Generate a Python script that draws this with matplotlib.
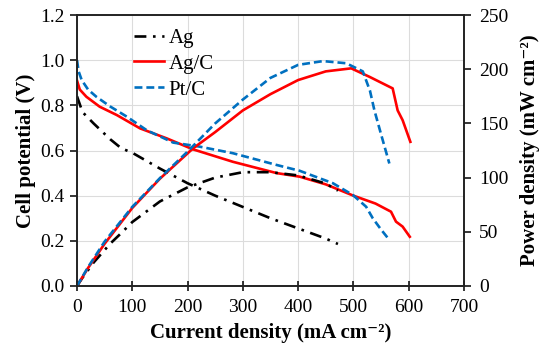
import matplotlib
matplotlib.use("Agg")
import matplotlib.pyplot as plt

# ---- data ----
ag_i = [0, 10, 30, 60, 80, 100, 150, 200, 250, 300, 350, 400, 450, 472]
ag_v = [0.84, 0.77, 0.72, 0.65, 0.61, 0.59, 0.52, 0.455, 0.40, 0.35, 0.30, 0.255, 0.21, 0.186]
ag_p = [0, 7.7, 21.6, 39, 48.8, 59, 78, 91, 100, 105, 105, 102, 94.5, 88]

agc_i_v = [0, 5, 17, 41, 72, 114, 162, 210, 282, 361, 403, 450, 500, 540, 568, 577, 589, 602]
agc_v = [0.91, 0.87, 0.838, 0.794, 0.757, 0.698, 0.654, 0.605, 0.55, 0.50, 0.484, 0.45, 0.40,
         0.365, 0.329, 0.285, 0.263, 0.218]
agc_i_p = [0, 20, 50, 100, 150, 210, 250, 300, 350, 400, 450, 496, 529, 571, 580, 589, 603]
agc_p = [0, 16.6, 39, 72, 99, 127, 142, 162, 177, 190, 198, 200.8, 193, 182.3, 162, 153, 133]

ptc_i_v = [0, 3, 8.5, 20, 35, 60, 90, 126, 174, 222, 282, 361, 403, 463, 499, 523, 535, 550, 565]
ptc_v = [1.0, 0.95, 0.912, 0.87, 0.838, 0.795, 0.75, 0.69, 0.635, 0.617, 0.588, 0.536, 0.51,
         0.455, 0.403, 0.351, 0.30, 0.25, 0.204]
ptc_i_p = [0, 20, 50, 100, 150, 200, 250, 300, 350, 400, 445, 487, 517, 530, 538, 550, 565]
ptc_p = [0, 17.4, 41, 73, 99.5, 124, 150, 172, 192, 204, 207.5, 205.5, 198, 180, 162, 140, 113]

x_ticks = [0, 100, 200, 300, 400, 500, 600, 700]
v_ticks = [0.0, 0.2, 0.4, 0.6, 0.8, 1.0, 1.2]
p_ticks = [0, 50, 100, 150, 200, 250]

# ---- style ----
plt.rcParams['font.family'] = ['Liberation Serif', 'DejaVu Serif']

FS = 14
LFS = 15
black = '#000000'
red = '#FF0000'
blue = '#0070C0'
lw = 1.9

fig = plt.figure(figsize=(5.5, 3.55), dpi=100)
ax = fig.add_axes([0.14, 0.1944, 0.7036, 0.7633])
ax2 = ax.twinx()

dashdot = (0, (4.5, 2.5, 1, 2.5))
dashed = (0, (3, 1.5))

ax.plot(ag_i, ag_v, color=black, lw=lw, linestyle=dashdot, label='Ag')
ax.plot(agc_i_v, agc_v, color=red, lw=lw, linestyle='-', label='Ag/C')
ax.plot(ptc_i_v, ptc_v, color=blue, lw=lw, linestyle=dashed, label='Pt/C')

ax2.plot(ag_i, ag_p, color=black, lw=lw, linestyle=dashdot)
ax2.plot(agc_i_p, agc_p, color=red, lw=lw, linestyle='-')
ax2.plot(ptc_i_p, ptc_p, color=blue, lw=lw, linestyle=dashed)

ax.set_xlim(0, 700)
ax.set_ylim(0, 1.2)
ax2.set_ylim(0, 250)
ax.set_xticks(x_ticks)
ax.set_yticks(v_ticks)
ax.set_yticklabels([f'{v:.1f}' for v in v_ticks])
ax2.set_yticks(p_ticks)

ax.grid(True, color='#dcdcdc', lw=0.8)
ax.set_axisbelow(True)

for a in (ax, ax2):
    for s in a.spines.values():
        s.set_linewidth(1.2)
        s.set_color('#222222')
ax.tick_params(axis='x', direction='inout', length=7, width=1.1, labelsize=FS, pad=6)
ax.tick_params(axis='y', direction='out', length=5, width=1.1, labelsize=FS, pad=4)
ax2.tick_params(axis='y', direction='out', length=5, width=1.1, labelsize=FS, pad=6)

ax.set_xlabel('Current density (mA cm\u207b\u00b2)', fontsize=LFS, fontweight='bold', labelpad=5)
ax.set_ylabel('Cell potential (V)', fontsize=LFS, fontweight='bold', labelpad=3)
ax2.set_ylabel('Power density (mW cm\u207b\u00b2)', fontsize=LFS, fontweight='bold', labelpad=8)

leg = ax.legend(loc='upper left', bbox_to_anchor=(0.1, 1.02), frameon=False, fontsize=LFS,
                handlelength=1.4, handletextpad=0.25, labelspacing=0.3)

fig.savefig('out.png', dpi=100)
